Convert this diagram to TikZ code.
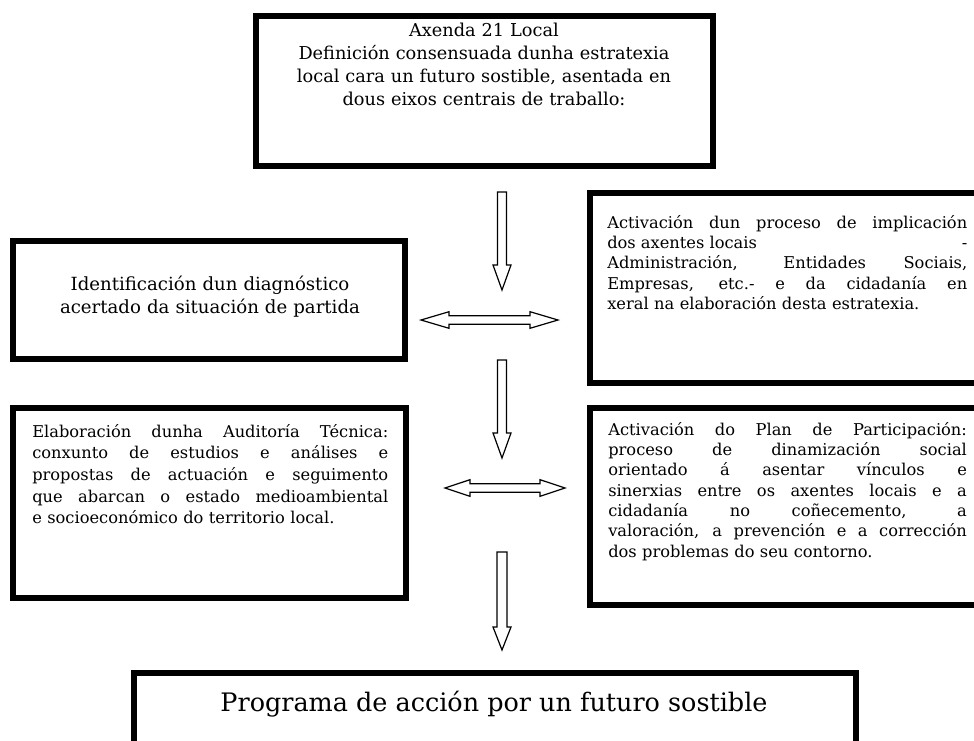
\documentclass[tikz,border=0pt]{standalone}
\usepackage{fontspec}
\setmainfont{DejaVu Serif}
\newcommand{\justline}[1]{\makebox[\linewidth][s]{\spaceskip=0pt\xspaceskip=0pt\relax #1}\\}

\begin{document}
\begin{tikzpicture}[x=0.75pt, y=-0.75pt,
  frame/.style={line width=4.5pt, line join=miter},
  blockarrow/.style={draw=black, fill=white, line width=0.9pt, line join=miter},
  bigtxt/.style={inner sep=0pt, text width=330pt, align=center, anchor=base,
    font=\fontsize{13.6}{17.25}\selectfont},
  smalltxt/.style={inner sep=0pt, text width=269pt, align=left, anchor=base west,
    font=\fontsize{12.2}{15.25}\selectfont}]
\useasboundingbox (0,0) rectangle (974,740);
\clip (0,0) rectangle (974,740);
% Axenda 21 Local: dous eixos e programa de accion
\coordinate (D1t) at (502,192);
\coordinate (D2t) at (502,360);
\coordinate (D3t) at (502,552);
\coordinate (H1l) at (421,320);
\coordinate (H2l) at (445,488);

\draw[frame] (255.5,16) rectangle (712.5,165.5);
\node[bigtxt, font=\fontsize{13.3}{17.25}\selectfont] (A21) at (484,36) {Axenda 21 Local\\Definición consensuada dunha estratexia\\local cara un futuro sostible, asentada en\\dous eixos centrais de traballo:};

\draw[frame] (13,241) rectangle (405,358.5);
\node[bigtxt, text width=285pt] (Diag) at (210,290.7) {Identificación dun diagnóstico\\acertado da situación de partida};

\draw[frame] (590,192.5) rectangle (990,383);
\node[smalltxt, text width=270pt] (Impl) at (607,228) {\justline{Activación dun proceso de implicación}
\justline{dos axentes locais\hfill -}
\justline{Administración, Entidades Sociais,}
\justline{Empresas, etc.- e da cidadanía en}
xeral na elaboración desta estratexia.};

\draw[frame] (13,408) rectangle (406,598);
\node[smalltxt, text width=267pt, font=\fontsize{12.2}{16.25}\selectfont] (Audit) at (32,437) {\justline{Elaboración dunha Auditoría Técnica:}
\justline{conxunto de estudios e análises e}
\justline{propostas de actuación e seguimento}
\justline{que abarcan o estado medioambiental}
e socioeconómico do territorio local.};

\draw[frame] (590,407.5) rectangle (990,605);
\node[smalltxt] (Part) at (608,435) {\justline{Activación do Plan de Participación:}
\justline{proceso de dinamización social}
\justline{orientado á asentar vínculos e}
\justline{sinerxias entre os axentes locais e a}
\justline{cidadanía no coñecemento, a}
\justline{valoración, a prevención e a corrección}
dos problemas do seu contorno.};

\draw[frame] (134,672.5) rectangle (855.5,770);
\node[inner sep=0pt, anchor=base, font=\fontsize{19.1}{23}\selectfont] (Prog) at (494,711) {Programa de acción por un futuro sostible};

% frechas
\draw[blockarrow] (D1t) ++(-4.5,0) -- ++(0,73) -- ++(-4.5,0) -- ++(9,25) -- ++(9,-25) -- ++(-4.5,0) -- ++(0,-73) -- cycle;
\draw[blockarrow] (D2t) ++(-4.5,0) -- ++(0,73) -- ++(-4.5,0) -- ++(9,25) -- ++(9,-25) -- ++(-4.5,0) -- ++(0,-73) -- cycle;
\draw[blockarrow] (D3t) ++(-5,0) -- ++(0,75) -- ++(-4,0) -- ++(9,23) -- ++(9,-23) -- ++(-4,0) -- ++(0,-75) -- cycle;

\draw[blockarrow] (H1l) -- ++(28,-8.3) -- ++(0,4.1) -- ++(81,0) -- ++(0,-4.1) -- ++(28,8.3) -- ++(-28,8.3) -- ++(0,-4.1) -- ++(-81,0) -- ++(0,4.1) -- cycle;
\draw[blockarrow] (H2l) -- ++(25,-8.3) -- ++(0,4.1) -- ++(70,0) -- ++(0,-4.1) -- ++(25,8.3) -- ++(-25,8.3) -- ++(0,-4.1) -- ++(-70,0) -- ++(0,4.1) -- cycle;
\end{tikzpicture}
\end{document}
